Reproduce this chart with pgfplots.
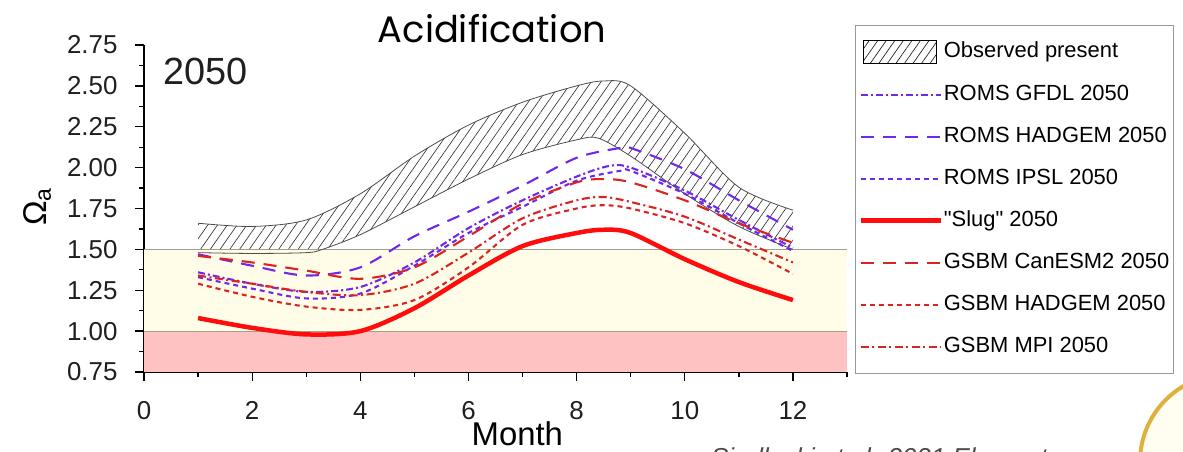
\documentclass[border=0pt]{standalone}
\usepackage{fontspec}
\setmainfont{Liberation Sans}
\newfontfamily\titlefont{Poppins}
\usepackage{pgfplots}
\pgfplotsset{compat=1.18}
\usepgfplotslibrary{fillbetween}
\usetikzlibrary{patterns.meta}
\definecolor{romsc}{RGB}{112,40,235}
\definecolor{gsbmc}{RGB}{218,35,35}
\definecolor{slugc}{RGB}{255,12,12}
\definecolor{cream}{RGB}{255,253,232}
\definecolor{pinkband}{RGB}{255,194,194}
\definecolor{bandline}{RGB}{160,160,140}
\definecolor{gold}{RGB}{222,176,60}
\begin{document}
\begin{tikzpicture}
\node[anchor=base, font=\titlefont\fontsize{37}{42}\selectfont, inner sep=0pt] at (492bp,409bp) {Acidification};
\node[anchor=base west, font=\itshape\fontsize{26}{28}\selectfont, text=black!70, inner sep=0pt] at (711bp,-14bp) {Siedlecki et al. 2021 Elementa};
\draw[gold, line width=4bp, fill=cream!60] (1228bp,-10bp) circle (88bp);
\begin{axis}[
  at={(144bp,80bp)}, anchor=south west,
  width=703bp, height=327bp, scale only axis,
  xmin=0, xmax=13, ymin=0.75, ymax=2.75,
  axis x line*=bottom, axis y line*=left,
  axis line style={-, black, line width=1.5bp},
  xtick={0,2,4,6,8,10,12}, xticklabels={0,2,4,6,8,10,12},
  minor xtick={1,3,5,7,9,11,13},
  ytick={0.75,1.00,1.25,1.50,1.75,2.00,2.25,2.50,2.75},
  yticklabels={0.75,1.00,1.25,1.50,1.75,2.00,2.25,2.50,2.75},
  minor ytick={0.875,1.125,1.375,1.625,1.875,2.125,2.375,2.625},
  tick align=outside,
  major tick length=9bp, minor tick length=5bp,
  every tick/.style={black, line width=1.3bp},
  tick label style={font=\fontsize{26}{28}\selectfont, text=black!88},
  xticklabel style={yshift=-17bp},
  yticklabel style={xshift=-14bp},
  xlabel={Month},
  xlabel style={at={(axis description cs:0.531,-0.226)}, anchor=base, font=\fontsize{33}{36}\selectfont},
  ylabel={Ω\textsubscript{a}},
  ylabel style={at={(axis description cs:-0.138,0.505)}, anchor=base, font=\fontsize{33}{36}\selectfont},
  legend style={
    at={(axis description cs:1.0114,1.0612)}, anchor=north west,
    draw=black!40, line width=0.8bp, fill=white,
    font=\fontsize{22}{24}\selectfont,
    inner xsep=3bp, inner ysep=15bp,
    row sep=19bp,
    nodes={inner sep=1bp, text height=16bp, text depth=5bp},
    cells={anchor=west},
    /tikz/every even column/.append style={column sep=4bp},
  },
  legend image code/.code={\draw[#1] (0bp,0bp) -- (80bp,0bp);},
]
% background bands
\addplot[fill=pinkband, draw=none, forget plot] coordinates {(0,0.75) (13,0.75) (13,1.0) (0,1.0)} -- cycle;
\addplot[fill=cream, draw=none, forget plot] coordinates {(0,1.0) (13,1.0) (13,1.5) (0,1.5)} -- cycle;
\addplot[bandline, line width=0.9bp, forget plot] coordinates {(0,1.0) (13,1.0)};
\addplot[bandline, line width=0.9bp, forget plot] coordinates {(0,1.5) (13,1.5)};
% observed present band
\addplot[name path=obsup, draw=black!70, line width=0.8bp, smooth, forget plot] coordinates {
(1,1.66) (2,1.64) (3,1.68) (4,1.84) (5,2.07) (6,2.26) (7,2.40) (8,2.50) (8.5,2.53) (9,2.50) (10,2.21) (11,1.88) (12,1.74)};
\addplot[name path=obslo, draw=black!70, line width=0.8bp, smooth, forget plot] coordinates {
(1,1.48) (2,1.475) (3,1.48) (3.3,1.50) (4,1.59) (5,1.76) (6,1.93) (7,2.08) (8,2.17) (8.4,2.18) (9,2.07) (10,1.84) (11,1.64) (12,1.50)};
\addplot[pattern={Lines[angle=55,distance=8bp,line width=0.65bp]}, pattern color=black!80, draw=none,
  legend image code/.code={\draw[pattern={Lines[angle=55,distance=7bp,line width=0.7bp]}, pattern color=black!85, draw=black, line width=0.8bp] (3bp,-11.5bp) rectangle (76bp,11.5bp);}]
  fill between[of=obsup and obslo];
\addlegendentry{Observed present}
% ROMS GFDL
\addplot[romsc, line width=2.1bp, smooth, dash pattern=on 7bp off 3bp on 2bp off 3bp] coordinates {
(1,1.36) (2,1.29) (3,1.24) (4,1.27) (5,1.42) (6,1.63) (7,1.80) (8,1.945) (8.6,2.01) (9,2.00) (10,1.86) (11,1.68) (12,1.51)};
\addlegendentry{ROMS GFDL 2050}
% ROMS HADGEM
\addplot[romsc, line width=2.1bp, smooth, dash pattern=on 13bp off 9bp] coordinates {
(1,1.47) (2,1.40) (3,1.34) (4,1.39) (5,1.58) (6,1.73) (7,1.89) (8,2.06) (8.8,2.12) (9,2.12) (10,1.99) (11,1.80) (12,1.62)};
\addlegendentry{ROMS HADGEM 2050}
% ROMS IPSL
\addplot[romsc, line width=2.1bp, smooth, dash pattern=on 5bp off 4bp] coordinates {
(1,1.33) (2,1.26) (3,1.20) (4,1.23) (5,1.40) (6,1.60) (7,1.76) (8,1.92) (8.8,1.98) (9,1.98) (10,1.84) (11,1.66) (12,1.49)};
\addlegendentry{ROMS IPSL 2050}
% Slug
\addplot[slugc, line width=4.5bp, smooth] coordinates {
(1,1.08) (2,1.02) (3,0.98) (4,1.00) (5,1.14) (6,1.34) (7,1.52) (8,1.60) (8.5,1.62) (9,1.60) (10,1.44) (11,1.30) (12,1.19)};
\addlegendentry{\textquotedbl Slug\textquotedbl{} 2050}
% GSBM CanESM2
\addplot[gsbmc, line width=2.1bp, smooth, dash pattern=on 13bp off 9bp] coordinates {
(1,1.46) (2,1.42) (3,1.37) (4,1.32) (5,1.39) (6,1.58) (7,1.78) (8,1.91) (8.5,1.93) (9,1.91) (10,1.80) (11,1.66) (12,1.54)};
\addlegendentry{GSBM CanESM2 2050}
% GSBM HADGEM
\addplot[gsbmc, line width=2.1bp, smooth, dash pattern=on 5bp off 4bp] coordinates {
(1,1.29) (2,1.21) (3,1.15) (4,1.13) (5,1.19) (6,1.39) (7,1.65) (8,1.75) (8.5,1.77) (9,1.75) (10,1.66) (11,1.52) (12,1.35)};
\addlegendentry{GSBM HADGEM 2050}
% GSBM MPI
\addplot[gsbmc, line width=2.1bp, smooth, dash pattern=on 8bp off 3.5bp on 2bp off 3.5bp] coordinates {
(1,1.34) (2,1.29) (3,1.24) (4,1.22) (5,1.29) (6,1.48) (7,1.69) (8,1.80) (8.5,1.82) (9,1.79) (10,1.70) (11,1.56) (12,1.42)};
\addlegendentry{GSBM MPI 2050}
\node[anchor=base west, font=\fontsize{38}{40}\selectfont, inner sep=0pt, text=black!88] at (axis description cs:0.027,0.878) {2050};
\end{axis}
\pgfresetboundingbox
\path[use as bounding box] (0bp,0bp) rectangle (1183bp,452bp);
\end{tikzpicture}
\end{document}
